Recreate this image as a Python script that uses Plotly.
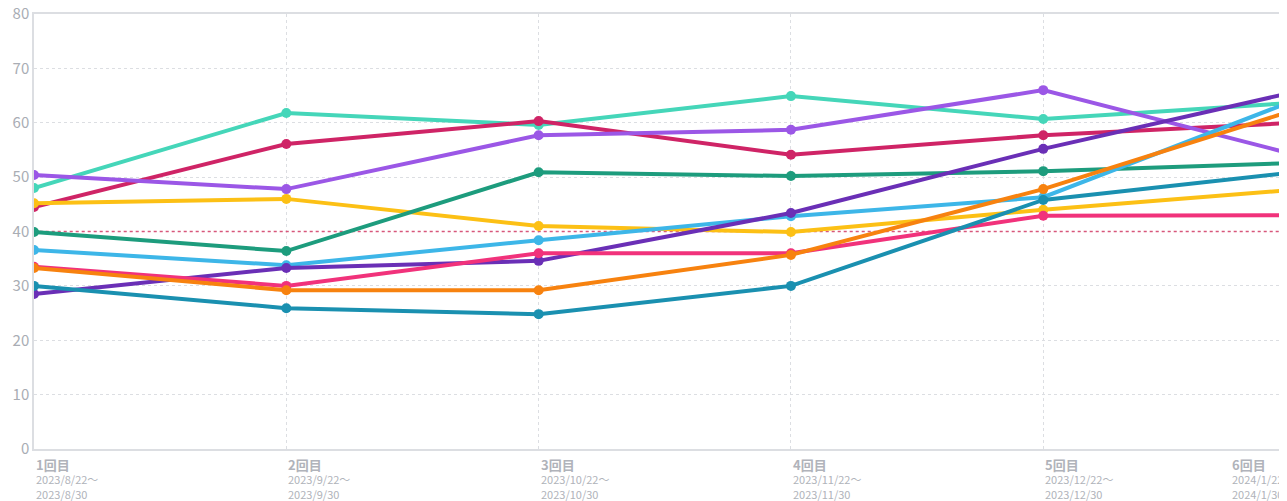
import plotly.graph_objects as go

# category labels (round / period)
rounds = ["1回目", "2回目", "3回目", "4回目", "5回目", "6回目"]
period_start = ["2023/8/22〜", "2023/9/22〜", "2023/10/22〜", "2023/11/22〜", "2023/12/22〜", "2024/1/22〜"]
period_end = ["2023/8/30", "2023/9/30", "2023/10/30", "2023/11/30", "2023/12/30", "2024/1/30"]

# series values
turquoise = [48.0, 61.8, 59.6, 64.9, 60.7, 63.7]
crimson = [44.5, 56.1, 60.3, 54.1, 57.7, 60.0]
violet = [50.4, 47.8, 57.7, 58.7, 66.0, 54.1]
yellow = [45.2, 46.0, 41.0, 39.9, 44.0, 47.7]
green = [39.9, 36.4, 50.9, 50.2, 51.1, 52.6]
sky = [36.6, 33.8, 38.4, 42.8, 46.3, 64.2]
indigo = [28.5, 33.3, 34.6, 43.4, 55.2, 65.7]
pink = [33.5, 30.0, 36.0, 36.0, 42.9, 43.0]
orange = [33.3, 29.2, 29.2, 35.7, 47.8, 62.4]
teal = [30.0, 25.9, 24.8, 30.0, 45.8, 50.9]

threshold = 40
y_ticks = [0, 10, 20, 30, 40, 50, 60, 70, 80]

series = [
    (turquoise, "#45d6b9"),
    (crimson, "#cf2466"),
    (violet, "#9b57e6"),
    (yellow, "#fcc015"),
    (green, "#1d9c7d"),
    (sky, "#3db6e8"),
    (indigo, "#6a2fb6"),
    (pink, "#f1327b"),
    (orange, "#f7820f"),
    (teal, "#1a90b0"),
]

x_idx = list(range(len(rounds)))
x_range = [0, 4.966]

fig = go.Figure()

# threshold line
fig.add_trace(go.Scatter(
    x=[-1, len(rounds)], y=[threshold, threshold],
    mode="lines", line=dict(color="#d9577b", width=1.5, dash="dot"),
    hoverinfo="skip", showlegend=False
))

for vals, col in series:
    fig.add_trace(go.Scatter(
        x=x_idx, y=vals, mode="lines+markers",
        line=dict(color=col, width=4),
        marker=dict(color=col, size=10),
        showlegend=False
    ))

tick_text = [
    f"<b><span style='font-size:13px'>{r}</span></b><br>{s}<br>{e}"
    for r, s, e in zip(rounds, period_start, period_end)
]

# page body has an 8px margin, so the figure is sized to fit the window
fig.update_layout(
    width=1279, height=493,
    margin=dict(l=26, r=0, t=6, b=52),
    plot_bgcolor="white", paper_bgcolor="white",
    font=dict(family="Noto Sans CJK JP", color="#a6aab2"),
    xaxis=dict(
        range=x_range, tickvals=x_idx, showticklabels=False,
        showgrid=True, gridcolor="#dcdee2", griddash="dot", gridwidth=1,
        showline=True, linecolor="#dcdee2", linewidth=1.5, mirror=True,
        zeroline=False, ticks="", automargin=False,
    ),
    yaxis=dict(
        range=[0, 80], tickvals=y_ticks,
        tickfont=dict(size=15, color="#a9adb4"),
        ticklabeloverflow="allow",
        showgrid=True, gridcolor="#dcdee2", griddash="dot", gridwidth=1,
        showline=True, linecolor="#dcdee2", linewidth=1.5,
        zeroline=False, ticks="", automargin=False,
    ),
)

# category labels: left-aligned at each point; the last one sits beyond the
# visible range, so it is placed in paper space and right-aligned
last = len(rounds) - 1
for i, txt in enumerate(tick_text):
    if i < last:
        ref, xpos, anchor = "x", x_idx[i], "left"
    else:
        ref = "paper"
        xpos = (x_idx[i] - x_range[0]) / (x_range[1] - x_range[0])
        anchor = "right"
    fig.add_annotation(
        xref=ref, yref="paper", x=xpos, y=0,
        xanchor=anchor, yanchor="top", align="left", yshift=-4,
        text=txt, showarrow=False,
        font=dict(size=11, color="#b0b3ba"),
    )

fig.write_html("out.html")
